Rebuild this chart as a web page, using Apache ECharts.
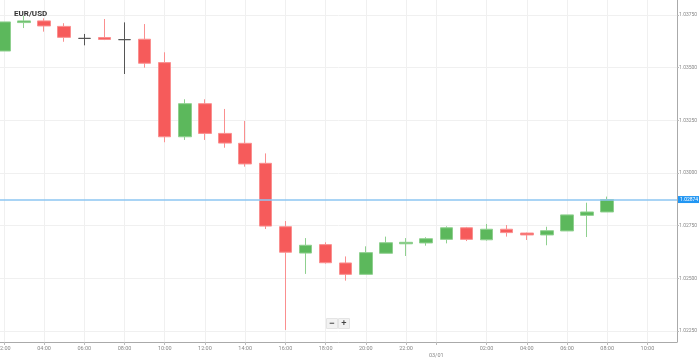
<!DOCTYPE html>
<html>
<head>
<meta charset="utf-8">
<script src="https://cdn.jsdelivr.net/npm/echarts@6/dist/echarts.min.js"></script>
<style>html,body{margin:0;padding:0;background:#fff;}#c{width:699px;height:361px;}</style>
</head>
<body>
<div id="c"></div>
<script>
// hourly candles, from 02:00 (day 1) to 08:00 (03/01)
const categories = ['02:00','03:00','04:00','05:00','06:00','07:00','08:00','09:00','10:00','11:00','12:00','13:00','14:00','15:00','16:00','17:00','18:00','19:00','20:00','21:00','22:00','23:00','00:00','01:00','02:00','03:00','04:00','05:00','06:00','07:00','08:00'];
const opens  = [1.03579,1.03714,1.03722,1.03696,1.03639,1.03643,1.03633,1.03635,1.03524,1.03172,1.03329,1.03188,1.03141,1.03046,1.02745,1.02620,1.02660,1.02573,1.02519,1.02619,1.02664,1.02668,1.02685,1.02740,1.02683,1.02733,1.02715,1.02706,1.02725,1.02799,1.02815];
const closes = [1.03717,1.03722,1.03698,1.03644,1.03639,1.03634,1.03633,1.03521,1.03172,1.03329,1.03188,1.03142,1.03043,1.02748,1.02624,1.02657,1.02574,1.02519,1.02622,1.02669,1.02671,1.02688,1.02740,1.02685,1.02733,1.02717,1.02706,1.02726,1.02801,1.02815,1.02874];
const lows   = [1.03579,1.03688,1.03671,1.03623,1.03606,1.03631,1.03470,1.03500,1.03146,1.03157,1.03157,1.03120,1.03030,1.02734,1.02255,1.02521,1.02570,1.02489,1.02519,1.02619,1.02606,1.02655,1.02666,1.02677,1.02679,1.02698,1.02682,1.02657,1.02725,1.02696,1.02815];
const highs  = [1.03717,1.03747,1.03734,1.03711,1.03660,1.03731,1.03715,1.03707,1.03573,1.03350,1.03350,1.03304,1.03247,1.03093,1.02772,1.02691,1.02671,1.02604,1.02652,1.02698,1.02691,1.02695,1.02747,1.02744,1.02758,1.02753,1.02717,1.02745,1.02801,1.02859,1.02888];
const currentPrice = 1.02874;
const yTicks = [1.0225,1.025,1.0275,1.03,1.0325,1.035,1.0375];
// x tick positions in hours since 00:00 of day 1
const xTickValues = [2,4,6,8,10,12,14,16,18,20,22,23.5,26,28,30,32,34];
const xTickLabels = ['02:00','04:00','06:00','08:00','10:00','12:00','14:00','16:00','18:00','20:00','22:00','\n03/01','02:00','04:00','06:00','08:00','10:00'];

const candleData = categories.map((c, i) => [2 + i, opens[i], closes[i], lows[i], highs[i]]);

const chart = echarts.init(document.getElementById('c'), null, {renderer: 'canvas'});
chart.setOption({
  animation: false,
  title: {text: 'EUR/USD', left: 9, top: 5, textStyle: {fontSize: 8, fontWeight: 'bold', color: '#333', fontFamily: 'Roboto'}},
  grid: {left: 0, right: 22, top: 0, bottom: 19, outerBoundsMode: 'none', containLabel: false},
  xAxis: {
    type: 'value', min: 1.81, max: 35.47,
    axisLine: {lineStyle: {color: '#aaa'}},
    axisTick: {show: true, length: 3, lineStyle: {color: '#bbb'}, customValues: xTickValues},
    axisLabel: {customValues: xTickValues, fontSize: 5.5, color: '#888', margin: 3, lineHeight: 7, fontFamily: 'Roboto',
      formatter: v => { const k = xTickValues.indexOf(v); return k >= 0 ? xTickLabels[k] : ''; }},
    splitLine: {show: true, lineStyle: {color: '#f0f0f0'}}
  },
  yAxis: {
    type: 'value', position: 'right', min: 1.021978, max: 1.038212, scale: true,
    axisLine: {show: true, lineStyle: {color: '#aaa'}},
    axisTick: {show: true, length: 2, lineStyle: {color: '#bbb'}, customValues: yTicks},
    axisLabel: {customValues: yTicks, fontSize: 5, color: '#888', margin: 2, fontFamily: 'Roboto', formatter: v => v.toFixed(5)},
    splitLine: {show: true, lineStyle: {color: '#f0f0f0'}}
  },
  series: [{
    type: 'candlestick',
    barWidth: 13,
    data: candleData,
    itemStyle: {color: '#5cb85c', color0: '#f65b5b', borderColor: '#8fd08f', borderColor0: '#fa8f8f', borderColorDoji: '#555', borderWidth: 1},
    markLine: {
      silent: true, symbol: 'none', precision: 5,
      lineStyle: {color: '#8cc6f2', width: 1.5, type: 'solid'},
      label: {show: true, position: 'end', distance: 1, formatter: () => currentPrice.toFixed(5), backgroundColor: '#2196f3', color: '#fff', fontSize: 5, padding: [1, 2], fontFamily: 'Roboto'},
      data: [{yAxis: currentPrice}]
    }
  }],
  graphic: [{
    type: 'group', left: 326, top: 318,
    children: [
      {type: 'rect', shape: {x: 0, y: 0, width: 11, height: 10}, style: {fill: '#f2f2f2', stroke: '#e4e4e4'}},
      {type: 'text', x: 5.5, y: 5, style: {text: '−', fontSize: 9, fill: '#444', align: 'center', verticalAlign: 'middle', fontWeight: 'bold'}},
      {type: 'rect', shape: {x: 12, y: 0, width: 11, height: 10}, style: {fill: '#f2f2f2', stroke: '#e4e4e4'}},
      {type: 'text', x: 17.5, y: 5, style: {text: '+', fontSize: 9, fill: '#444', align: 'center', verticalAlign: 'middle', fontWeight: 'bold'}}
    ]
  }]
});
</script>
</body>
</html>
